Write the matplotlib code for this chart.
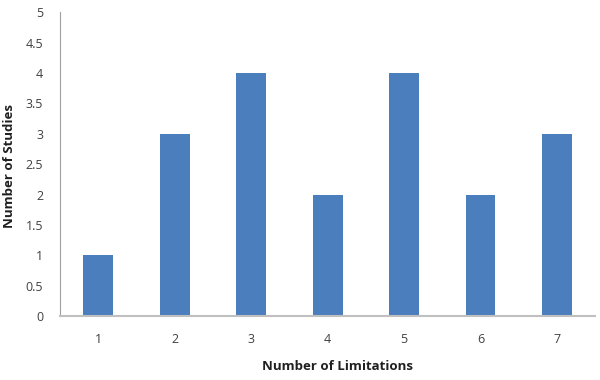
import matplotlib
matplotlib.use('Agg')
import matplotlib.pyplot as plt

limitations = ['1', '2', '3', '4', '5', '6', '7']
studies = [1, 3, 4, 2, 4, 2, 3]
y_ticks = [0, 0.5, 1, 1.5, 2, 2.5, 3, 3.5, 4, 4.5, 5]

plt.rcParams['font.family'] = ['Open Sans', 'DejaVu Sans']

fig = plt.figure(figsize=(6, 3.8), dpi=100)
ax = fig.add_axes([0.1, 0.168, 0.892, 0.8])

x = range(len(limitations))
ax.bar(x, studies, width=0.39, color='#4A7EBD')

ax.set_xlim(-0.5, len(limitations) - 0.5)
ax.set_ylim(0, 5)
ax.set_xticks(list(x))
ax.set_xticklabels(limitations)
ax.set_yticks(y_ticks)
ax.set_yticklabels(['%g' % t for t in y_ticks])
ax.tick_params(length=0, labelsize=9, colors='#404040', pad=12)
ax.tick_params(axis='x', pad=12)

for s in ['top', 'right']:
    ax.spines[s].set_visible(False)
ax.spines['left'].set_color('#A0A0A0')
ax.spines['bottom'].set_color('#C0C0C0')
ax.spines['bottom'].set_linewidth(1.5)

# axis titles placed in figure pixels like the original
fig.text(337 / 600, 1 - 366 / 380, 'Number of Limitations', fontsize=9.5,
         fontweight='bold', ha='center', va='center', color='#202020')
fig.text(10 / 600, 1 - 166 / 380, 'Number of Studies', fontsize=9.5,
         fontweight='bold', ha='center', va='center', rotation=90, color='#202020')

fig.savefig('out.png', dpi=100)
